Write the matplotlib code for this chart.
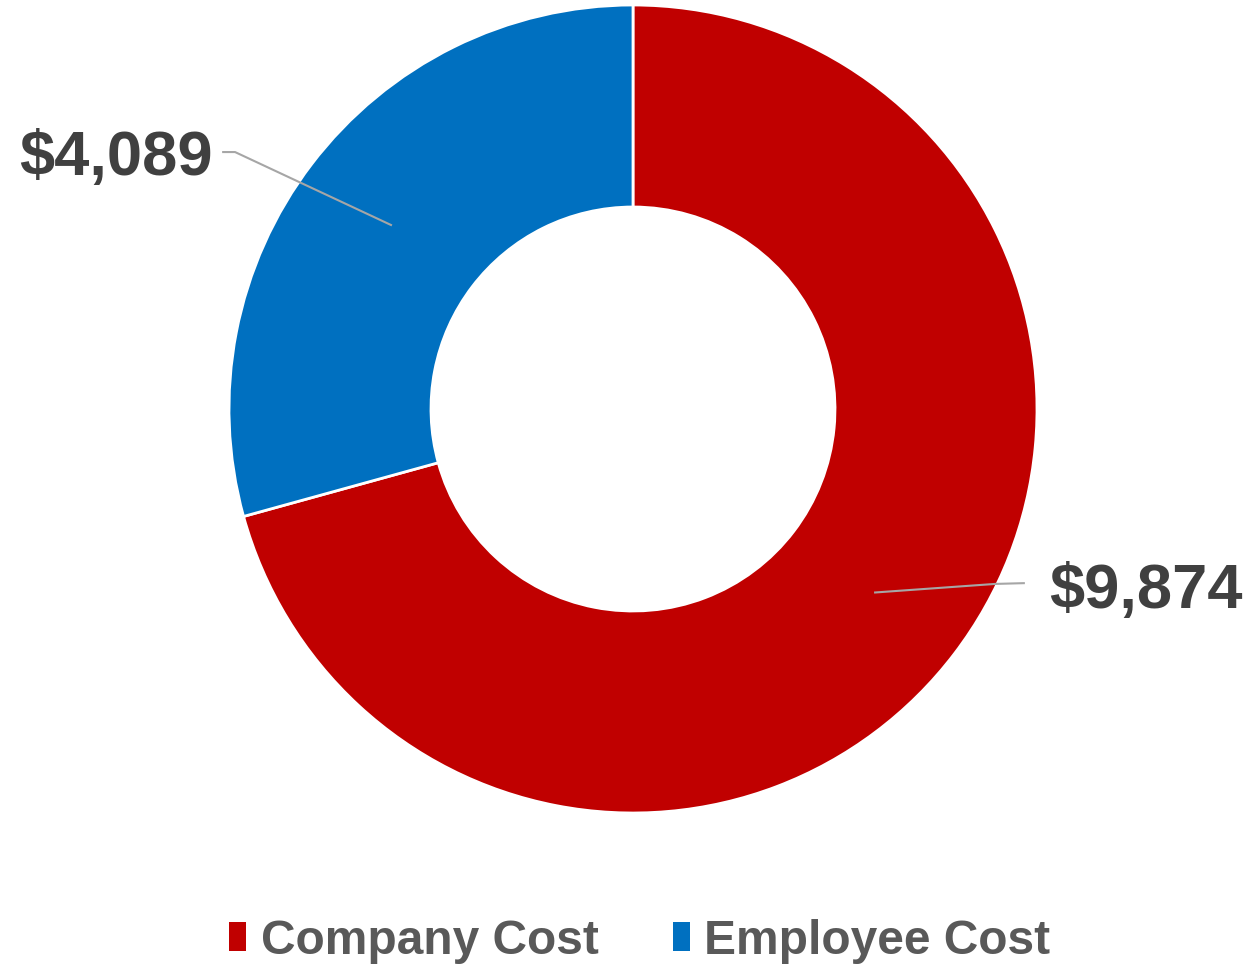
#!/usr/bin/env python3
import numpy as np
import matplotlib
matplotlib.use("Agg")
import matplotlib.pyplot as plt
from matplotlib.patches import Patch

categories = ["Company Cost", "Employee Cost"]
costs = [9874, 4089]
colors = ["#C00000", "#0070C0"]
label_text = ["$9,874", "$4,089"]

plt.rcParams["font.family"] = ["Liberation Sans", "DejaVu Sans"]

W, H, DPI = 1252, 970, 100
fig = plt.figure(figsize=(W / DPI, H / DPI), dpi=DPI)
ax = fig.add_axes([0, 0, 1, 1])

wedges, _ = ax.pie(
    costs,
    colors=colors,
    startangle=90,
    counterclock=False,
    radius=1.0,
    wedgeprops=dict(width=0.5, edgecolor="white", linewidth=2),
)

# map pie (radius 1) onto the pixel frame: centre (633, 410), radius 404 px
R_PX = 404.0
cx, cy = 633.0, 410.0
ax.set_aspect("auto")
ax.set_xlim(-cx / R_PX, (W - cx) / R_PX)
ax.set_ylim(-(H - cy) / R_PX, cy / R_PX)
ax.axis("off")

# label layout: text centre, elbow of leader line, end of leader line (axis units)
layout = [
    dict(text=(1.27, -0.449), elbow=(0.896, -0.433), end=(0.970, -0.431)),
    dict(text=(-1.28, 0.623), elbow=(-0.985, 0.636), end=(-1.017, 0.636)),
]

for w, txt, lay in zip(wedges, label_text, layout):
    mid = np.deg2rad((w.theta1 + w.theta2) / 2)
    px, py = 0.75 * np.cos(mid), 0.75 * np.sin(mid)
    ex, ey = lay["elbow"]
    fx, fy = lay["end"]
    ax.plot([px, ex, fx], [py, ey, fy], color="#A6A6A6", lw=1.5,
            solid_capstyle="butt", zorder=3)
    ax.text(*lay["text"], txt, ha="center", va="center", fontsize=45.5,
            fontweight="bold", color="#404040")

handles = [Patch(facecolor=c, edgecolor="none") for c in colors]
leg = fig.legend(
    handles, categories, loc="center", bbox_to_anchor=(0.511, 1 - 942 / H),
    ncol=2, frameon=False, handlelength=0.35, handleheight=0.55, handletextpad=0.3,
    columnspacing=1.55,
    prop=dict(size=34.5, weight="bold"),
)
for t in leg.get_texts():
    t.set_color("#595959")

fig.savefig("out.png", dpi=DPI)
